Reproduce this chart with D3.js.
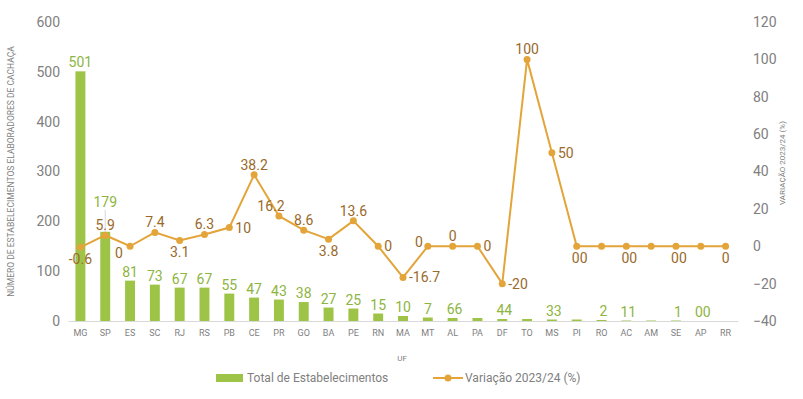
<!DOCTYPE html>
<html>
<head>
<meta charset="utf-8">
<script src="https://cdn.jsdelivr.net/npm/d3@7"></script>
<style>
  body { margin: 0; background: #fff; }
  text { font-family: Roboto, "Open Sans", sans-serif; }
</style>
</head>
<body>
<div id="chart"></div>
<script>
const ufs = ["MG","SP","ES","SC","RJ","RS","PB","CE","PR","GO","BA","PE","RN","MA","MT","AL","PA","DF","TO","MS","PI","RO","AC","AM","SE","AP","RR"]
const totals = [501,179,81,73,67,67,55,47,43,38,27,25,15,10,7,6,6,4,4,3,3,2,1,1,1,0,0]
// labels as they appear on the picture (some overlap into one)
const totalLabels = ["501","179","81","73","67","67","55","47","43","38","27","25","15","10","7","66","","44","","33","","2","11","","1","00",""]
const variacao = [-0.6,5.9,0,7.4,3.1,6.3,10,38.2,16.2,8.6,3.8,13.6,0,-16.7,0,0,0,-20,100,50,0,0,0,0,0,0,0]
const variacaoLabels = ["-0.6","5.9","0","7.4","3.1","6.3","10","38.2","16.2","8.6","3.8","13.6","0","-16.7","0","0","0","-20","100","50","00","","00","","00","","0"]
const labelSide = ["b","t","bl","t","b","t","r","t","tl","t","b","t","r","r","l","t","r","r","t","r","br","b","br","b","br","b","b"]
const leftTicks = [0,100,200,300,400,500,600]
const rightTicks = [-40,-20,0,20,40,60,80,100,120]

const width = 803, height = 399
const margin = {top: 22, right: 65, bottom: 78, left: 68}

const svg = d3.select("#chart").append("svg")
  .attr("width", width).attr("height", height)

const x = d3.scaleBand().domain(ufs)
  .range([margin.left, width - margin.right])
  .paddingInner(0.6).paddingOuter(0.3)

const yL = d3.scaleLinear().domain([0, 600]).range([height - margin.bottom, margin.top])
const yR = d3.scaleLinear().domain([-40, 120]).range([height - margin.bottom, margin.top])

const green = "#9dc447", orange = "#e3a43a", brown = "#9a6a2c", grey = "#808080"

// axes
svg.append("g")
  .attr("transform", `translate(${margin.left - 8},0)`)
  .call(d3.axisLeft(yL).tickValues(leftTicks).tickSize(0).tickPadding(0))
  .call(g => g.select(".domain").remove())
  .selectAll("text").attr("fill", grey).attr("font-size", 14)

svg.append("g")
  .attr("transform", `translate(${width - margin.right + 15},0)`)
  .call(d3.axisRight(yR).tickValues(rightTicks).tickSize(0).tickPadding(0))
  .call(g => g.select(".domain").remove())
  .selectAll("text").attr("fill", grey).attr("font-size", 14)

svg.append("g")
  .attr("transform", `translate(0,${yL(0)})`)
  .call(d3.axisBottom(x).tickSize(0).tickPadding(9))
  .call(g => g.select(".domain").attr("stroke", "#d9d9d9"))
  .selectAll("text").attr("fill", grey).attr("font-size", 9)

// axis titles
svg.append("text")
  .attr("transform", `translate(14,${(margin.top + yL(0)) / 2}) rotate(-90)`)
  .attr("text-anchor", "middle").attr("font-size", 8.5).attr("fill", grey)
  .text("NÚMERO DE ESTABELECIMENTOS ELABORADORES DE CACHAÇA")

svg.append("text")
  .attr("transform", `translate(785,163) rotate(-90)`)
  .attr("text-anchor", "middle").attr("font-size", 8).attr("fill", grey)
  .text("VARIAÇÃO 2023/24 (%)")

svg.append("text")
  .attr("x", 402).attr("y", 361)
  .attr("text-anchor", "middle").attr("font-size", 8).attr("fill", grey)
  .text("UF")

// bars
svg.append("g").selectAll("rect")
  .data(totals)
  .join("rect")
    .attr("x", (d, i) => x(ufs[i]))
    .attr("y", d => yL(d))
    .attr("width", x.bandwidth())
    .attr("height", d => yL(0) - yL(d))
    .attr("fill", green)

// leader line for SP label
svg.append("line")
  .attr("x1", x("SP") + x.bandwidth() / 2).attr("x2", x("SP") + x.bandwidth() / 2)
  .attr("y1", yL(totals[1]) - 22).attr("y2", yL(totals[1]))
  .attr("stroke", "#d0d8e0").attr("stroke-width", 1)

svg.append("g").selectAll("text")
  .data(totals)
  .join("text")
    .attr("x", (d, i) => x(ufs[i]) + x.bandwidth() / 2 + (i >= 15 ? 2 : 0))
    .attr("y", (d, i) => i == 1 ? yL(d) - 25 : yL(d) - 4)
    .attr("text-anchor", "middle")
    .attr("font-size", 14)
    .attr("fill", "#8db53f")
    .text((d, i) => totalLabels[i])

// line
const cx = i => x(ufs[i]) + x.bandwidth() / 2
const line = d3.line().x((d, i) => cx(i)).y(d => yR(d))

svg.append("path")
  .datum(variacao)
  .attr("fill", "none").attr("stroke", orange).attr("stroke-width", 2)
  .attr("d", line)

svg.append("g").selectAll("circle")
  .data(variacao)
  .join("circle")
    .attr("cx", (d, i) => cx(i)).attr("cy", d => yR(d))
    .attr("r", 3.5).attr("fill", orange)

const off = {
  t: [0, -5, "middle"], b: [0, 17, "middle"], r: [6, 5, "start"], l: [-5, 1, "end"],
  bl: [-11, 12, "middle"], tl: [-8, -5, "middle"], br: [3, 17, "middle"]
}
svg.append("g").selectAll("text")
  .data(variacao)
  .join("text")
    .attr("x", (d, i) => cx(i) + off[labelSide[i]][0])
    .attr("y", (d, i) => yR(d) + off[labelSide[i]][1])
    .attr("text-anchor", (d, i) => off[labelSide[i]][2])
    .attr("font-size", 14)
    .attr("fill", brown)
    .text((d, i) => variacaoLabels[i])

// legend
const lg = svg.append("g").attr("transform", "translate(0,378)")
lg.append("rect").attr("x", 216).attr("y", -4).attr("width", 27).attr("height", 8).attr("fill", green)
lg.append("text").attr("x", 247).attr("y", 4).attr("font-size", 12).attr("fill", grey)
  .text("Total de Estabelecimentos")
lg.append("line").attr("x1", 433).attr("x2", 463).attr("y1", 0).attr("y2", 0)
  .attr("stroke", orange).attr("stroke-width", 2)
lg.append("circle").attr("cx", 448).attr("cy", 0).attr("r", 3.5).attr("fill", orange)
lg.append("text").attr("x", 465).attr("y", 4).attr("font-size", 12).attr("fill", grey)
  .text("Variação 2023/24 (%)")
</script>
</body>
</html>
